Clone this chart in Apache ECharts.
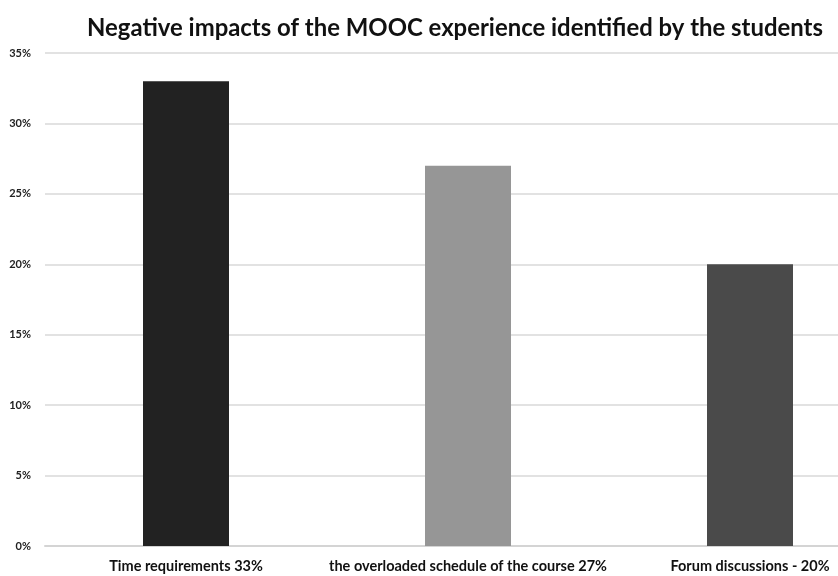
<!DOCTYPE html>
<html>
<head>
<meta charset="utf-8">
<script src="https://cdn.jsdelivr.net/npm/echarts@6/dist/echarts.min.js"></script>
<style>
  html, body { margin: 0; padding: 0; background: #fff; }
  #chart { width: 838px; height: 576px; }
</style>
</head>
<body>
<div id="chart"></div>
<script>
// Survey results: share of students naming each negative impact
const categories = [
  'Time requirements 33%',
  'the overloaded schedule of the course 27%',
  'Forum discussions - 20%'
];
const shares = [33, 27, 20];
const barColors = ['#222222', '#969696', '#4a4a4a'];
const yTicks = [0, 5, 10, 15, 20, 25, 30, 35];

const FONT = 'Lato';

const chart = echarts.init(document.getElementById('chart'), null, { renderer: 'canvas' });
chart.setOption({
  backgroundColor: '#ffffff',
  animation: false,
  title: {
    text: 'Negative impacts of the MOOC experience identified by the students',
    left: 450,
    textAlign: 'center',
    top: 11,
    textStyle: { fontFamily: FONT, fontWeight: 'bold', fontSize: 23.9, color: '#111111' }
  },
  // the plot area runs past the right edge of the page
  grid: {
    left: 45, width: 846, top: 53, bottom: 30,
    containLabel: false, outerBoundsMode: 'none'
  },
  xAxis: {
    type: 'category',
    data: categories,
    axisLine: { show: true, lineStyle: { color: '#d4d4d4', width: 2 } },
    axisTick: { show: false },
    axisLabel: {
      fontFamily: FONT, fontWeight: 'bold', fontSize: 14.5, color: '#111111',
      margin: 13, interval: 0
    }
  },
  yAxis: {
    type: 'value',
    min: yTicks[0],
    max: yTicks[yTicks.length - 1],
    interval: 5,
    axisLine: { show: false },
    axisTick: { show: false },
    splitLine: { lineStyle: { color: '#d9d9d9', width: 1.5 } },
    axisLabel: {
      fontFamily: FONT, fontWeight: 'bold', fontSize: 11, color: '#222222',
      margin: 14, formatter: v => v + '%'
    }
  },
  series: [{
    type: 'bar',
    barWidth: 86,
    data: shares.map((v, i) => ({ value: v, itemStyle: { color: barColors[i] } }))
  }]
});
</script>
</body>
</html>
